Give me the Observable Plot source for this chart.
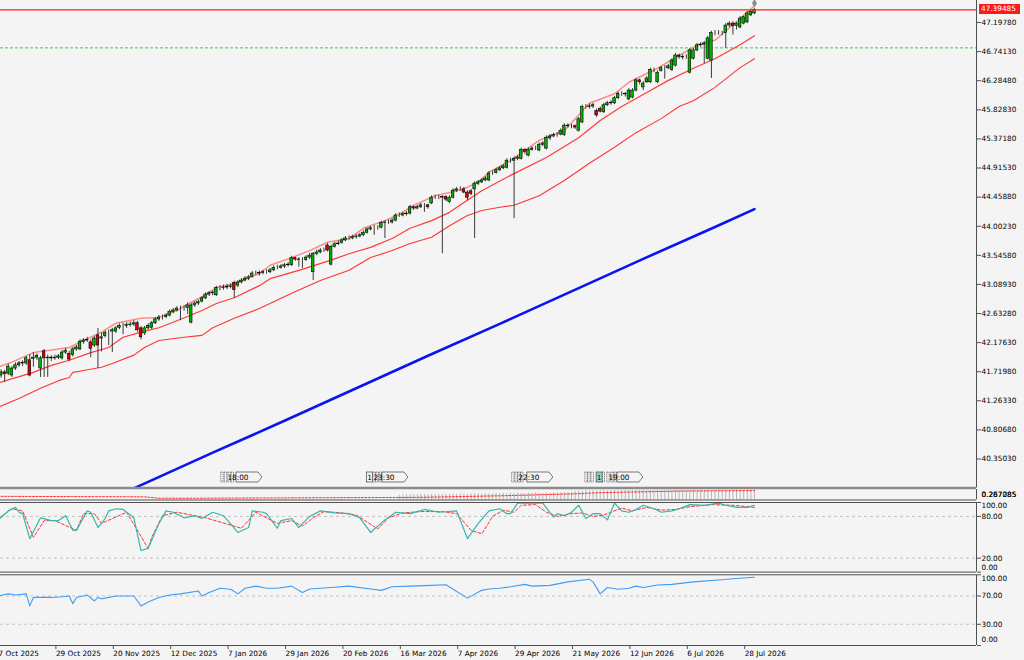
<!DOCTYPE html>
<html><head><meta charset="utf-8">
<script src="https://cdn.jsdelivr.net/npm/d3@7"></script>
<script src="https://cdn.jsdelivr.net/npm/@observablehq/plot@0.6"></script>
<style>
html,body{margin:0;padding:0;background:#f4f4f4;}
#chart{position:relative;width:1024px;height:660px;overflow:hidden;background:#f4f4f4;}
#chart svg{position:absolute;left:0;}
#tag{position:absolute;left:979px;top:4px;width:41px;height:10px;background:#ff1a1a;color:#fff;font:7.3px "DejaVu Sans";line-height:10px;padding-left:2px;box-sizing:border-box;}
</style></head><body><div id="chart"></div>
<script>
// ---------- data ----------
const opens = [41.69,41.66,41.71,41.69,41.66,41.77,41.82,41.86,41.85,41.90,
 41.92,41.94,41.77,42.04,41.93,41.94,41.93,41.94,41.93,42.02,
 42.00,41.98,42.07,42.07,42.19,42.21,42.18,42.13,42.29,42.24,
 42.28,42.33,42.35,42.35,42.41,42.44,42.44,42.45,42.46,42.48,
 42.40,42.32,42.40,42.41,42.48,42.54,42.57,42.58,42.60,42.66,
 42.68,42.71,42.71,42.72,42.49,42.76,42.79,42.82,42.87,42.93,
 42.95,42.92,43.03,43.03,43.04,43.05,43.11,43.07,43.12,43.15,
 43.18,43.21,43.26,43.26,43.27,43.28,43.28,43.31,43.35,43.35,
 43.37,43.39,43.39,43.50,43.48,43.47,43.47,43.51,43.28,43.57,
 43.59,43.62,43.70,43.40,43.68,43.72,43.74,43.78,43.81,43.81,
 43.83,43.84,43.86,43.90,43.95,43.97,43.97,43.98,44.05,44.06,
 44.06,44.09,44.17,44.17,44.19,44.20,44.30,44.28,44.30,44.33,
 44.33,44.36,44.45,44.45,44.45,44.46,44.38,44.45,44.56,44.58,
 44.58,44.53,44.55,44.58,44.67,44.69,44.72,44.72,44.83,44.84,
 44.88,44.91,44.92,45.03,45.03,45.06,45.06,45.20,45.11,45.20,
 45.22,45.19,45.28,45.22,45.38,45.41,45.43,45.44,45.43,45.58,
 45.57,45.57,45.50,45.63,45.87,45.87,45.88,45.81,45.84,45.79,
 45.90,45.93,45.93,46.01,46.08,46.08,45.99,46.02,46.13,46.29,
 46.18,46.26,46.26,46.45,46.26,46.44,46.48,46.48,46.45,46.52,
 46.68,46.66,46.65,46.41,46.63,46.76,46.84,46.85,46.63,46.60,
 47.03,47.03,47.03,47.03,47.15,47.18,47.14,47.12,47.18,47.20,
 47.31,47.34];
const highs = [41.74,41.75,41.74,41.84,41.80,41.86,41.88,41.89,41.96,41.99,
 42.02,42.00,41.96,42.07,41.98,41.97,41.98,41.99,42.05,42.09,
 42.04,42.10,42.13,42.22,42.24,42.26,42.22,42.27,42.40,42.33,
 42.36,42.37,42.40,42.43,42.47,42.48,42.49,42.50,42.52,42.51,
 42.43,42.43,42.47,42.51,42.57,42.60,42.61,42.63,42.69,42.71,
 42.74,42.75,42.75,42.80,42.79,42.82,42.84,42.90,42.96,42.98,
 42.99,43.06,43.07,43.08,43.09,43.10,43.14,43.15,43.18,43.21,
 43.23,43.29,43.30,43.30,43.31,43.32,43.34,43.38,43.39,43.40,
 43.42,43.43,43.53,43.52,43.51,43.51,43.54,43.58,43.59,43.63,
 43.65,43.66,43.73,43.70,43.75,43.77,43.81,43.84,43.85,43.86,
 43.87,43.89,43.93,43.98,44.00,44.01,44.01,44.08,44.09,44.10,
 44.12,44.20,44.21,44.22,44.23,44.33,44.32,44.33,44.36,44.36,
 44.35,44.48,44.49,44.49,44.48,44.48,44.48,44.59,44.61,44.62,
 44.61,44.56,44.58,44.70,44.72,44.75,44.78,44.86,44.87,44.91,
 44.94,44.97,45.06,45.07,45.09,45.11,45.23,45.22,45.23,45.25,
 45.26,45.31,45.33,45.42,45.44,45.46,45.47,45.53,45.61,45.61,
 45.60,45.59,45.71,45.90,45.91,45.92,45.93,45.84,45.87,45.93,
 45.96,45.97,46.04,46.11,46.11,46.10,46.16,46.16,46.32,46.31,
 46.27,46.35,46.48,46.48,46.44,46.51,46.52,46.54,46.63,46.71,
 46.70,46.69,46.69,46.79,46.79,46.87,46.88,46.90,46.98,47.06,
 47.07,47.07,47.06,47.18,47.21,47.21,47.20,47.29,47.30,47.37,
 47.39,47.42];
const lows = [41.60,41.62,41.55,41.66,41.63,41.74,41.79,41.80,41.82,41.64,
 41.79,41.90,41.63,41.63,41.63,41.88,41.90,41.91,41.90,41.99,
 41.88,41.95,42.04,42.05,42.15,42.18,41.94,42.10,41.77,42.03,
 42.25,42.13,42.02,42.32,42.38,42.30,42.40,42.42,42.43,42.34,
 42.22,42.29,42.37,42.38,42.46,42.51,42.53,42.55,42.58,42.63,
 42.66,42.52,42.67,42.62,42.47,42.73,42.76,42.80,42.85,42.90,
 42.91,42.90,42.99,43.00,43.01,43.02,42.87,43.04,43.10,43.13,
 43.15,43.19,43.23,43.22,43.24,43.25,43.26,43.29,43.32,43.33,
 43.34,43.36,43.37,43.45,43.36,43.34,43.45,43.48,43.15,43.54,
 43.57,43.59,43.60,43.38,43.66,43.70,43.72,43.76,43.78,43.79,
 43.80,43.82,43.84,43.88,43.93,43.86,43.94,43.96,43.81,44.03,
 44.04,44.07,44.14,44.15,44.16,44.18,44.25,44.26,44.28,44.22,
 44.27,44.34,44.42,44.42,43.57,44.39,44.36,44.43,44.53,44.55,
 44.51,44.40,44.48,43.81,44.64,44.67,44.70,44.70,44.80,44.82,
 44.86,44.89,44.90,44.99,44.12,45.03,45.04,45.13,45.09,45.18,
 45.19,45.17,45.25,45.20,45.35,45.39,45.40,45.42,45.41,45.54,
 45.53,45.52,45.48,45.61,45.84,45.84,45.85,45.71,45.78,45.77,
 45.88,45.90,45.91,45.99,46.04,46.03,45.97,46.00,46.11,46.22,
 46.13,46.24,46.24,46.41,46.24,46.42,46.31,46.46,46.43,46.50,
 46.62,46.61,46.62,46.39,46.61,46.74,46.81,46.55,46.61,46.32,
 46.99,47.00,46.99,46.79,47.12,47.00,47.08,47.10,47.16,47.18,
 47.29,47.32];
const closes = [41.66,41.71,41.68,41.80,41.77,41.82,41.85,41.85,41.93,41.66,
 41.94,41.97,41.93,41.93,41.94,41.93,41.94,41.96,42.02,42.05,
 41.91,42.07,42.10,42.19,42.21,42.22,42.08,42.24,42.13,42.26,
 42.33,42.33,42.37,42.40,42.44,42.44,42.45,42.46,42.48,42.37,
 42.26,42.40,42.44,42.48,42.54,42.57,42.57,42.60,42.66,42.68,
 42.71,42.71,42.71,42.76,42.76,42.79,42.81,42.87,42.93,42.95,
 42.96,43.03,43.03,43.04,43.05,43.06,43.00,43.12,43.15,43.18,
 43.20,43.26,43.26,43.27,43.28,43.28,43.31,43.35,43.35,43.37,
 43.39,43.40,43.50,43.48,43.47,43.47,43.51,43.54,43.57,43.59,
 43.62,43.62,43.62,43.68,43.72,43.73,43.78,43.81,43.81,43.83,
 43.84,43.86,43.90,43.95,43.97,43.97,43.97,44.05,44.06,44.06,
 44.09,44.17,44.17,44.19,44.20,44.30,44.28,44.30,44.33,44.33,
 44.30,44.45,44.45,44.45,44.46,44.42,44.45,44.56,44.58,44.58,
 44.53,44.45,44.51,44.67,44.69,44.72,44.75,44.83,44.83,44.88,
 44.91,44.94,45.03,45.03,45.06,45.08,45.20,45.17,45.20,45.22,
 45.22,45.28,45.30,45.39,45.41,45.43,45.43,45.50,45.58,45.57,
 45.57,45.55,45.68,45.87,45.87,45.88,45.90,45.74,45.80,45.90,
 45.93,45.94,46.01,46.08,46.08,46.07,46.13,46.13,46.29,46.26,
 46.24,46.32,46.45,46.45,46.41,46.48,46.48,46.51,46.60,46.68,
 46.66,46.65,46.65,46.76,46.76,46.84,46.85,46.87,46.95,47.03,
 47.03,47.03,47.03,47.15,47.18,47.14,47.18,47.26,47.28,47.34,
 47.36,47.39485];

// envelope lines (vertices)
const upperBars = [0,4,10,20,26,29,33,40,45,50,54,58,61,66,73,76,82,87,92,98,102,108,112,116,122,126,130,134,137,143,151,158,165,172,176,184,190,195,200,206,211];
const upperVals = [41.79,41.87,42.02,42.10,42.26,42.34,42.48,42.56,42.57,42.68,42.81,42.92,43.04,43.10,43.26,43.39,43.51,43.62,43.75,43.81,43.97,44.09,44.19,44.33,44.48,44.53,44.59,44.69,44.85,45.03,45.35,45.50,45.93,46.08,46.26,46.48,46.68,46.84,46.92,47.21,47.46];
const midBars = [0,10,15,20,26,31,35,40,45,50,57,61,66,73,76,84,93,98,104,110,115,121,126,132,135,143,153,162,168,174,181,187,194,200,207,211];
const midVals = [41.54,41.71,41.82,41.90,42.02,42.10,42.26,42.34,42.41,42.52,42.68,42.79,42.88,43.07,43.18,43.31,43.47,43.57,43.67,43.81,43.97,44.09,44.22,44.45,44.56,44.80,45.08,45.39,45.66,45.88,46.10,46.29,46.48,46.63,46.85,46.99];
const lowerBars = [0,6,12,17,20,21,24,29,32,38,41,45,52,57,60,66,73,82,90,98,104,110,115,121,126,131,135,140,144,151,158,165,172,178,185,190,194,200,207,211];
const lowerVals = [41.16,41.30,41.46,41.58,41.63,41.71,41.74,41.79,41.85,41.98,42.10,42.21,42.26,42.29,42.41,42.56,42.71,42.95,43.15,43.31,43.51,43.62,43.73,43.83,44.01,44.17,44.25,44.30,44.33,44.48,44.72,44.99,45.24,45.47,45.69,45.88,45.97,46.18,46.49,46.63];
const maBars = [0,20,40,60,80,100,120,140,160,180,200,211];
const maVals = [38.93,39.44,39.94,40.45,40.95,41.46,41.97,42.47,42.98,43.49,43.99,44.27];

const lastPrice = 47.39485;
const greenLevel = 46.80;
const yTicks = [47.19780,46.74130,46.28480,45.82830,45.37180,44.91530,44.45880,44.00230,43.54580,43.08930,42.63280,42.17630,41.71980,41.26330,40.80680,40.35030];

// sub-window 1 (small)
const p2Bars = [0,41,45,56,78,118,140,146,162,168,190,211];
const p2Vals = [0.35,0.30,0.17,0.17,0.20,0.25,0.40,0.45,0.60,0.70,0.85,0.90];
const histStart = 112;
const histVals = [0.45,0.48,0.46,0.50,0.47,0.49,0.52,0.50,0.48,0.53,
 0.51,0.55,0.52,0.50,0.54,0.56,0.53,0.55,0.58,0.54,
 0.57,0.55,0.59,0.56,0.60,0.58,0.57,0.61,0.59,0.62,
 0.60,0.63,0.61,0.64,0.62,0.60,0.65,0.63,0.66,0.64,
 0.62,0.67,0.65,0.68,0.66,0.70,0.69,0.72,0.71,
 0.82,0.85,0.84,0.87,0.86,0.88,0.85,0.87,0.89,0.86,
 0.88,0.90,0.87,0.89,0.91,0.88,0.90,0.92,0.89,0.91,
 0.90,0.92,0.91,0.93,0.90,0.92,0.94,0.91,0.93,0.92,
 0.94,0.92,0.93,0.95,0.93,0.94,0.92,0.95,0.93,0.94,
 0.96,0.94,0.95,0.93,0.95,0.96,0.94,0.95,0.97,0.95,0.96];
const p2Labels = ["0.287285","0.267085"];

// stochastic
const stochBars = [0,3,5,6,7,9,12,15,17,19,21,22,25,26,28,30,31,33,35,38,40,42,45,47,49,52,55,57,60,63,67,70,71,74,75,78,79,82,84,87,90,94,98,101,104,108,111,115,119,123,128,131,134,137,140,142,143,145,149,152,155,156,158,160,162,164,166,168,170,172,174,176,178,180,183,185,188,190,193,197,201,203,206,209,211];
const stochMain = [74,88,93,86,84,48,78,74,74,81,60,60,88,86,64,77,88,91,90,78,31,34,70,88,86,78,81,77,86,81,57,64,88,86,84,63,74,77,64,80,88,85,84,78,57,75,86,84,90,86,88,48,70,88,91,84,84,99,99,99,79,84,81,86,96,77,84,84,75,99,88,86,90,96,91,86,88,91,97,96,99,96,93,93,96];
const sigBars = [0,4,7,10,13,16,22,24,27,29,36,42,43,46,50,58,68,72,78,82,85,88,91,96,100,103,106,109,113,118,124,128,132,135,138,141,144,146,150,153,156,160,163,166,169,171,174,177,181,185,189,193,199,205,211];
const sigVals = [76,91,88,50,74,74,60,84,84,70,86,34,50,81,86,78,63,86,70,74,66,78,87,85,82,72,62,78,85,87,87,84,60,55,80,89,86,96,97,86,80,84,85,80,82,86,92,88,93,89,90,94,97,96,93];

// oscillator 2
const oscBars = [0,3,5,8,9,10,15,18,20,21,22,25,27,28,29,32,33,38,40,42,45,48,51,56,57,59,62,65,67,69,72,75,78,82,85,87,93,98,104,107,110,115,121,125,131,135,137,140,143,147,149,154,159,165,166,168,170,173,176,178,180,184,188,194,201,205,211];
const oscVals = [70,73,71.5,73,56,68,68,69,70,59,68,71.5,63,68,66,69,70,70,56,61.5,68,71.5,73,77,70,75,81,79.5,73,81,84,81,81,84,75,80,82,84,80,78,83,84,85,86,67,78,80,81,83,86.5,84,85,90,93.6,90,73,82,79.5,81,84,82,85.6,86.5,90,92.7,94.5,96.5];

// time axis (daily bars, label every 16 bars)
const tickBars = [0,16,32,48,64,80,96,112,128,144,160,176,192,208];
const dateLabels = ["7 Oct 2025","29 Oct 2025","20 Nov 2025","12 Dec 2025","7 Jan 2026","29 Jan 2026","20 Feb 2026","16 Mar 2026","7 Apr 2026","29 Apr 2026","21 May 2026","12 Jun 2026","6 Jul 2026","28 Jul 2026"];

// event flags on the chart
const eventLabels = ["18:00","23:30","22:30","19:00"];
const eventLabelBars = [66.6,107.3,147.7,172.8];
const eventFlagBars = [62.7,63.7,64.7,65.6,105.1,105.9,106.8,143.8,144.7,145.5,146.3,164.2,165.0,165.9,169.0,170.3,171.4,172.3];
const eventOneBars = [103.0,167.0];
const eventOneHighlight = [false,true];

// ---------- layout ----------
const FONT = "DejaVu Sans";
const FS = 7.3;
const W = 1024, MR = 48;
const barStep = 3.5875, barOffset = -3;
const xMin = -barOffset / barStep;
const xMax = (W - MR - barOffset) / barStep;
const pxPerUnit = 63.75;
const yMax = 47.1978 + 22 / pxPerUnit;
const yMin = yMax - 487.5 / pxPerUnit;
const style = {fontFamily: FONT, fontSize: FS + "px", color: "#000", background: "transparent", overflow: "visible"};
const AX = "#505050";

const bars = closes.map((c, i) => ({i, open: opens[i], high: highs[i], low: lows[i], close: c}));
const zip = (b, v) => b.map((i, k) => ({i, v: v[k]}));
const upper = zip(upperBars, upperVals), mid = zip(midBars, midVals), lower = zip(lowerBars, lowerVals), ma = zip(maBars, maVals);
const p2 = zip(p2Bars, p2Vals);
const hist = histVals.map((v, k) => ({i: histStart + k, v}));
const stoch = zip(stochBars, stochMain), sig = zip(sigBars, sigVals), osc = zip(oscBars, oscVals);

function eventMarks(index, scales, values, dims) {
  const g = d3.create("svg:g").attr("font-family", FONT).attr("font-size", FS).attr("fill", "#000");
  const base = 487.5;
  const top = base - 15.5, h = 10;
  eventFlagBars.forEach(b => {
    const x = scales.x(b);
    g.append("rect").attr("x", x - 1.2).attr("y", top).attr("width", 2.4).attr("height", h)
      .attr("fill", "none").attr("stroke", "#444").attr("stroke-width", 0.7).attr("stroke-dasharray", "1.2,0.8");
  });
  eventOneBars.forEach((b, k) => {
    const x = scales.x(b);
    g.append("rect").attr("x", x).attr("y", top).attr("width", 6).attr("height", h)
      .attr("fill", eventOneHighlight[k] ? "#8fd6d6" : "#f4f4f4").attr("stroke", "#444").attr("stroke-width", 0.7);
    g.append("text").attr("x", x + 3).attr("y", top + 7.8).attr("text-anchor", "middle").text("1");
  });
  eventLabelBars.forEach((b, k) => {
    const x = scales.x(b);
    g.append("path").attr("d", `M${x},${top}H${x + 22}L${x + 26},${top + h / 2}L${x + 22},${top + h}H${x}Z`)
      .attr("fill", "#f4f4f4").attr("stroke", "#444").attr("stroke-width", 0.7);
    g.append("text").attr("x", x + 2).attr("y", top + 7.8).text(eventLabels[k]);
  });
  return g.node();
}

const main = Plot.plot({
  width: W, height: 490, marginTop: 0, marginBottom: 2.5, marginLeft: 0, marginRight: MR, style,
  x: {domain: [xMin, xMax], axis: null},
  y: {domain: [yMin, yMax], label: null},
  marks: [
    Plot.ruleY([greenLevel], {stroke: "#4cc34c", strokeDasharray: "3,2", strokeWidth: 1}),
    Plot.line(lower, {x: "i", y: "v", stroke: "#ff3535", strokeWidth: 1.1, clip: true}),
    Plot.line(mid, {x: "i", y: "v", stroke: "#ff3a3a", strokeWidth: 1.2, clip: true}),
    Plot.line(upper, {x: "i", y: "v", stroke: "#ff8a8a", strokeWidth: 1.5, clip: true}),
    Plot.line(ma, {x: "i", y: "v", stroke: "#0a14ee", strokeWidth: 2.6, clip: true}),
    Plot.ruleX(bars, {x: "i", y1: "low", y2: "high", stroke: "#3a3a3a", strokeWidth: 1}),
    Plot.rect(bars, {x1: d => d.i - 0.36, x2: d => d.i + 0.36, y1: "open", y2: "close",
      fill: d => d.close >= d.open ? "#00b400" : "#e00000", stroke: "#000", strokeWidth: 0.6}),
    Plot.ruleY([lastPrice], {stroke: "#ff2020", strokeWidth: 1.2}),
    Plot.dot(bars.slice(-1), {x: "i", y: "high", dy: -5, symbol: "diamond", r: 2.6, fill: "#8a8a8a", stroke: "none"}),
    eventMarks,
    Plot.ruleY([yMin], {stroke: "#8c8c8c", strokeWidth: 2.5}),
    Plot.ruleX([xMax], {stroke: AX}),
    Plot.axisY(yTicks, {anchor: "right", tickSize: 4, tickPadding: 1, tickFormat: d => d.toFixed(5), label: null, stroke: AX})
  ]
});

const pan2 = Plot.plot({
  width: W, height: 12, marginTop: 1, marginBottom: 0.5, marginLeft: 0, marginRight: MR, style,
  x: {domain: [xMin, xMax], axis: null},
  y: {domain: [0, 1], axis: null},
  marks: [
    Plot.ruleX(hist, {x: "i", y1: 0, y2: "v", stroke: "#b4b4b4", strokeWidth: 1}),
    Plot.line(p2, {x: "i", y: "v", stroke: "#ff3030", strokeDasharray: "2,1.5", strokeWidth: 1}),
    Plot.ruleY([0], {stroke: AX}),
    Plot.ruleX([xMax], {stroke: AX}),
    Plot.text(p2Labels, {text: d => d, frameAnchor: "right", textAnchor: "start", dx: 5})
  ]
});

function levelLabels(vals, dy) {
  return Plot.text(vals, {y: d => d, text: d => d.toFixed(2), frameAnchor: "right", textAnchor: "start", dx: 5, dy});
}

const pan3 = Plot.plot({
  width: W, height: 72, marginTop: 1, marginBottom: 1.4, marginLeft: 0, marginRight: MR, style,
  x: {domain: [xMin, xMax], axis: null},
  y: {domain: [0, 100], label: null},
  marks: [
    Plot.ruleY([80, 20], {stroke: "#c2c2c2", strokeDasharray: "3,3"}),
    Plot.line(sig, {x: "i", y: "v", stroke: "#ff3030", strokeDasharray: "3,2", strokeWidth: 1}),
    Plot.line(stoch, {x: "i", y: "v", stroke: "#33b8ad", strokeWidth: 1.2}),
    Plot.ruleY([100], {stroke: AX}), Plot.ruleY([0], {stroke: AX}),
    Plot.ruleX([xMax], {stroke: AX}),
    Plot.axisY([0, 20, 80, 100], {anchor: "right", tickSize: 4, tickFormat: () => "", label: null, stroke: AX}),
    levelLabels([80, 20], 0), levelLabels([100], 3.5), levelLabels([0], -4.5)
  ]
});

const pan4 = Plot.plot({
  width: W, height: 87.5, marginTop: 1.3, marginBottom: 15.5, marginLeft: 0, marginRight: MR, style,
  x: {domain: [xMin, xMax], label: null},
  y: {domain: [0, 100], label: null},
  marks: [
    Plot.ruleY([70, 30], {stroke: "#c2c2c2", strokeDasharray: "3,3"}),
    Plot.line(osc, {x: "i", y: "v", stroke: "#3f9cf5", strokeWidth: 1.1}),
    Plot.ruleY([100], {stroke: AX}), Plot.ruleY([0], {stroke: AX}),
    Plot.ruleX([xMax], {stroke: AX}),
    Plot.axisY([0, 30, 70, 100], {anchor: "right", tickSize: 4, tickFormat: () => "", label: null, stroke: AX}),
    levelLabels([70, 30], 0), levelLabels([100], 4.3), levelLabels([0], -5.5),
    Plot.axisX(tickBars, {anchor: "bottom", tickSize: 4, tickPadding: 1, textAnchor: "start", dx: 1,
      tickFormat: d => dateLabels[tickBars.indexOf(d)], label: null, stroke: AX})
  ]
});

const host = document.getElementById("chart");
[[main, 0], [pan2, 488], [pan3, 501], [pan4, 572.5]].forEach(([svg, top]) => {
  svg.style.position = "absolute";
  svg.style.left = "0px";
  svg.style.top = top + "px";
  host.appendChild(svg);
});
// current price tag on the price scale
const tag = document.createElement("div");
tag.id = "tag";
tag.textContent = lastPrice.toFixed(5);
tag.style.top = (main.scale ? 0 : 0) + "px";
host.appendChild(tag);
const ty = main.scale("y").apply(lastPrice);
tag.style.top = (ty - 5) + "px";
</script>
</body></html>
